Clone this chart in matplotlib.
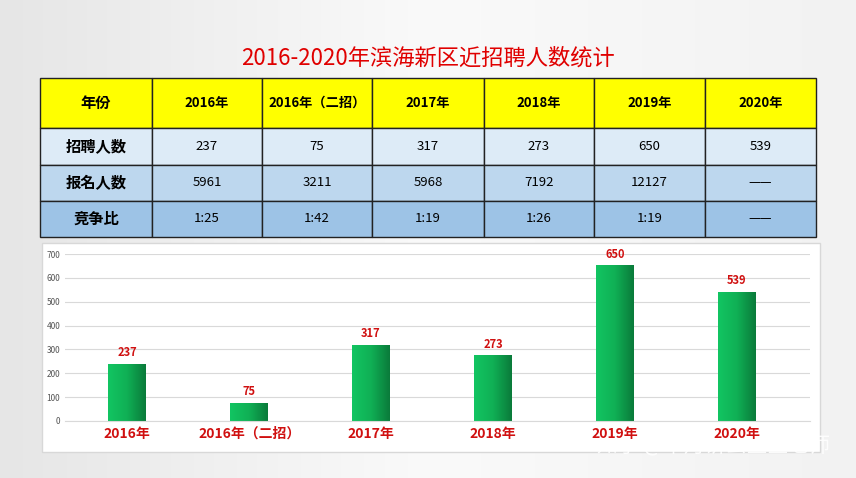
import numpy as np
import matplotlib.pyplot as plt
from matplotlib.patches import Rectangle
from matplotlib.colors import LinearSegmentedColormap

plt.rcParams["font.family"] = ["Noto Sans CJK JP", "Noto Sans CJK SC", "Noto Sans CJK TC",
                               "DejaVu Sans"]

years = ["2016年", "2016年（二招）", "2017年", "2018年", "2019年", "2020年"]
hires = [237, 75, 317, 273, 650, 539]
applicants = ["5961", "3211", "5968", "7192", "12127", "——"]
ratio = ["1:25", "1:42", "1:19", "1:26", "1:19", "——"]
row_names = ["年份", "招聘人数", "报名人数", "竞争比"]

W, H = 856, 478
fig = plt.figure(figsize=(W / 100, H / 100), dpi=100)
fig.patch.set_facecolor("#eeeeee")

# background panel covering figure, pixel coords
bg = fig.add_axes([0, 0, 1, 1])
bg.set_xlim(0, W)
bg.set_ylim(H, 0)
bg.axis("off")
grad = np.linspace(0, 1, 256).reshape(1, -1)
bg.imshow(np.vstack([grad] * 2), extent=[0, W, H, 0], aspect="auto",
          cmap=LinearSegmentedColormap.from_list("bgc", ["#e6e6e6", "#fafafa", "#f2f2f2"]))

bg.text(W / 2, 58, "2016-2020年滨海新区近招聘人数统计", color="#e00000",
        fontsize=16, ha="center", va="center")

# table
cols = [40, 152, 262, 372, 484, 594, 705, 816]
rows = [78, 128, 165, 201, 237]
fills = ["#ffff00", "#ddebf7", "#bdd7ee", "#9dc3e6"]
cells = [years, [str(v) for v in hires], applicants, ratio]
for r in range(4):
    for c in range(7):
        x0, x1 = cols[c], cols[c + 1]
        y0, y1 = rows[r], rows[r + 1]
        bg.add_patch(Rectangle((x0, y0), x1 - x0, y1 - y0, facecolor=fills[r],
                               edgecolor="#222222", lw=1))
        txt = row_names[r] if c == 0 else cells[r][c - 1]
        bold = c == 0 or r == 0
        bg.text((x0 + x1) / 2, (y0 + y1) / 2, txt, ha="center", va="center",
                fontsize=11 if c == 0 else 9.5, color="black",
                fontweight="bold" if bold else "normal")

# chart panel
bg.add_patch(Rectangle((42, 243), 778, 209, facecolor="white", edgecolor="#d8d8d8", lw=1))

ax = fig.add_axes([65 / W, (H - 421) / H, (810 - 65) / W, (421 - 254) / H])
ax.set_facecolor("none")
x = np.arange(len(years))
ax.set_yticks(range(0, 701, 100))
ax.tick_params(axis="y", labelsize=6, colors="#555555", length=0)
ax.yaxis.grid(True, color="#d9d9d9", lw=0.8)
ax.set_axisbelow(True)
for s in ["top", "right", "left"]:
    ax.spines[s].set_visible(False)
ax.spines["bottom"].set_color("#d9d9d9")
ax.set_xticks(x)
ax.set_xticklabels(years, color="#d01010", fontsize=10, fontweight="bold")
ax.tick_params(axis="x", length=0, pad=4)

cmap = LinearSegmentedColormap.from_list("g", ["#12c562", "#10b055", "#0a7a3a"])
bw = 0.31
bars = ax.bar(x, hires, width=bw, color="none")
for b, v in zip(bars, hires):
    ax.imshow(grad, extent=[b.get_x(), b.get_x() + bw, 0, v], aspect="auto",
              cmap=cmap, zorder=2)
    ax.text(b.get_x() + bw / 2, v + 22, str(v), ha="center", va="bottom",
            color="#d01010", fontsize=8, fontweight="bold")
ax.set_xlim(-0.51, 5.6)
ax.set_ylim(0, 700)

bg.text(830, 446, "知乎 @半月讲公宣宣老师", ha="right", va="center", fontsize=15,
        color="white", alpha=0.9)

fig.savefig("out.png", dpi=100)
